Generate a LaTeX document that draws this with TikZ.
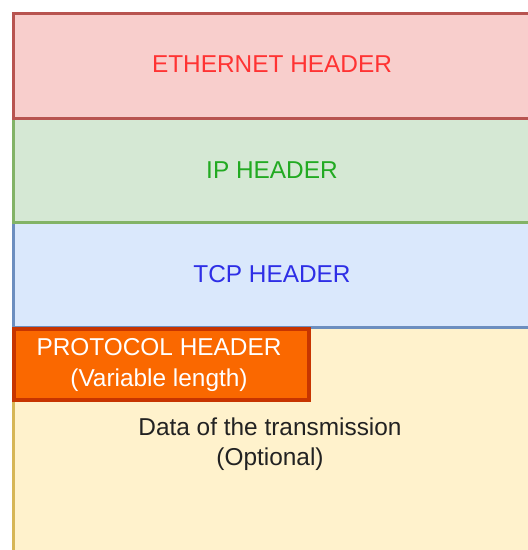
\documentclass[tikz,border=0pt]{standalone}
\usepackage{fontspec}
\setmainfont{Liberation Sans}
\definecolor{redfill}{HTML}{F8CECC}\definecolor{redline}{HTML}{B85450}
\definecolor{greenfill}{HTML}{D5E8D4}\definecolor{greenline}{HTML}{82B366}
\definecolor{bluefill}{HTML}{DAE8FC}\definecolor{blueline}{HTML}{6C8EBF}
\definecolor{yellowfill}{HTML}{FFF2CC}\definecolor{yellowline}{HTML}{D6B656}
\definecolor{orangefill}{HTML}{FA6800}\definecolor{orangeline}{HTML}{C73500}
\definecolor{ethtext}{HTML}{FF3333}\definecolor{iptext}{HTML}{22AA22}
\definecolor{tcptext}{HTML}{2E2EE6}\definecolor{datatext}{HTML}{222222}
\tikzset{
  layer/.style={draw, line width=3pt, anchor=north west, inner sep=0pt,
    minimum width=540pt},
  lbl/.style={font=\fontsize{24.4}{30.5}\selectfont, align=center, inner sep=0pt}
}
\begin{document}
\begin{tikzpicture}[x=1pt,y=-1pt]
\useasboundingbox (0,0) rectangle (528,550);
\clip (0,0) rectangle (528,550);
\node[layer, fill=yellowfill, draw=yellowline, minimum height=240pt] (data) at (11.5,326) {};
\node[layer, fill=bluefill, draw=blueline, minimum height=105pt] (tcp) at (11.5,221) {};
\node[layer, fill=greenfill, draw=greenline, minimum height=104.5pt] (ip) at (11.5,116.5) {};
\node[layer, fill=redfill, draw=redline, minimum height=104.5pt] (eth) at (11.5,12) {};
\node[draw=orangeline, fill=orangefill, line width=4pt, anchor=north west, inner sep=0pt,
  minimum width=295pt, minimum height=71pt] (proto) at (11.5,327) {};
\node[lbl, text=ethtext] (ethl) at (272,64) {ETHERNET HEADER};
\node[lbl, text=iptext] (ipl) at (272,170) {IP HEADER};
\node[lbl, text=tcptext] (tcpl) at (272,274) {TCP HEADER};
\node[lbl, text=white] (protol) at (159,365) {PROTOCOL HEADER\\(Variable length)};
\node[lbl, text=datatext] (datal) at (270,444) {Data of the transmission\\(Optional)};
\end{tikzpicture}
\end{document}
